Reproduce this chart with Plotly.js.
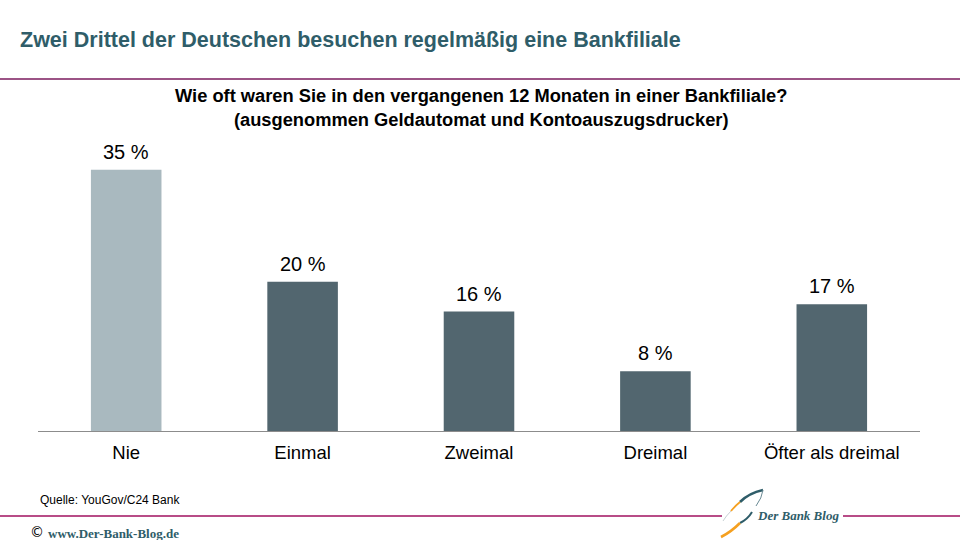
<!DOCTYPE html>
<html><head><meta charset="utf-8">
<script src="https://cdn.plot.ly/plotly-3.0.1.min.js"></script>
<style>body{margin:0;background:#fff}#c{width:960px;height:540px}</style>
</head><body><div id="c"></div>
<script>
const categories = ["Nie", "Einmal", "Zweimal", "Dreimal", "Öfter als dreimal"];
const values = [35, 20, 16, 8, 17];
const valueLabels = ["35 %", "20 %", "16 %", "8 %", "17 %"];
const barColors = ["#a9b9bf", "#52666f", "#52666f", "#52666f", "#52666f"];
const titleText = "Zwei Drittel der Deutschen besuchen regelmäßig eine Bankfiliale";
const subtitleText = "Wie oft waren Sie in den vergangenen 12 Monaten in einer Bankfiliale?<br>(ausgenommen Geldautomat und Kontoauszugsdrucker)";
const sourceText = "Quelle: YouGov/C24 Bank";

const W = 960, H = 540, L = 38, R = 920, T = 140, B = 431;
const px = x => x / W;
const py = y => (H - y) / H;
const P = (x, y) => px(x).toFixed(5) + "," + py(y).toFixed(5);
const curve = (a, c, b) => "M" + P(a[0], a[1]) + " Q" + P(c[0], c[1]) + " " + P(b[0], b[1]);

const shapes = [
  {type:"line", xref:"paper", yref:"paper", x0:0, x1:1, y0:py(79), y1:py(79), line:{color:"#7b1a5e", width:1.5}},
  {type:"line", xref:"paper", yref:"paper", x0:0, x1:px(722), y0:py(516), y1:py(516), line:{color:"#a0105f", width:1.3}},
  {type:"line", xref:"paper", yref:"paper", x0:px(843), x1:1, y0:py(516), y1:py(516), line:{color:"#a0105f", width:1.3}},
  {type:"path", xref:"paper", yref:"paper", path:curve([763,490],[749,493],[740,502]), line:{color:"#2f5d69", width:2.6}},
  {type:"path", xref:"paper", yref:"paper", path:curve([740,502],[735,506],[731,511]), line:{color:"#f5a020", width:1.8}},
  {type:"path", xref:"paper", yref:"paper", path:curve([731,511],[726,516],[723,521]), line:{color:"#b8c4c8", width:0.8}},
  {type:"path", xref:"paper", yref:"paper", path:curve([763,490],[762,498],[756,506]), line:{color:"#6a8a94", width:1}},
  {type:"path", xref:"paper", yref:"paper", path:curve([752,512],[748,519],[740,523]), line:{color:"#2f5d69", width:2}},
  {type:"path", xref:"paper", yref:"paper", path:curve([740,523],[731,532],[721,537]), line:{color:"#f5a020", width:2.6}}
];

const annotations = [
  {text:"<b>"+titleText+"</b>", xref:"paper", yref:"paper", x:px(18), y:py(40), xanchor:"left", yanchor:"middle", showarrow:false, font:{family:"Liberation Sans, Arial", size:21.5, color:"#2f5d69"}},
  {text:"<b>"+subtitleText+"</b>", xref:"paper", yref:"paper", x:px(481), y:py(107), xanchor:"center", yanchor:"middle", showarrow:false, font:{family:"Liberation Sans, Arial", size:18.3, color:"#000"}},
  {text:sourceText, xref:"paper", yref:"paper", x:px(38), y:py(500), xanchor:"left", yanchor:"middle", showarrow:false, font:{family:"Liberation Sans, Arial", size:12, color:"#000"}},
  {text:"©", xref:"paper", yref:"paper", x:px(28), y:py(532), xanchor:"left", yanchor:"middle", showarrow:false, font:{family:"DejaVu Sans", size:14, color:"#000"}},
  {text:"<b>www.Der-Bank-Blog.de</b>", xref:"paper", yref:"paper", x:px(46), y:py(533), xanchor:"left", yanchor:"middle", showarrow:false, font:{family:"Liberation Serif, serif", size:13, color:"#2f5d69"}},
  {text:"<b><i>Der Bank Blog</i></b>", xref:"paper", yref:"paper", x:px(755), y:py(515), xanchor:"left", yanchor:"middle", showarrow:false, font:{family:"Liberation Serif, serif", size:13, color:"#2f5d69"}}
];

categories.forEach((c, i) => {
  annotations.push({text:valueLabels[i], xref:"x", yref:"y", x:c, y:values[i], xanchor:"center", yanchor:"bottom", yshift:5, showarrow:false, font:{family:"Liberation Sans, Arial", size:20, color:"#000"}});
});

const trace = {
  type:"bar", x:categories, y:values,
  marker:{color:barColors},
  width:0.4,
  hoverinfo:"none"
};

const layout = {
  width:W, height:H,
  margin:{l:0, r:0, t:0, b:0, pad:0},
  paper_bgcolor:"#fff", plot_bgcolor:"rgba(0,0,0,0)",
  showlegend:false,
  xaxis:{domain:[L/W, R/W], showline:true, linecolor:"#8c8c8c", linewidth:1, ticks:"", ticklabelstandoff:5, tickfont:{family:"Liberation Sans, Arial", size:18.5, color:"#000"}, showgrid:false, zeroline:false, fixedrange:true},
  yaxis:{domain:[(H-B)/H, (H-T)/H], range:[0, 39], visible:false, showgrid:false, zeroline:false, fixedrange:true},
  shapes:shapes, annotations:annotations
};

Plotly.newPlot("c", [trace], layout, {staticPlot:true, displayModeBar:false});
</script></body></html>
